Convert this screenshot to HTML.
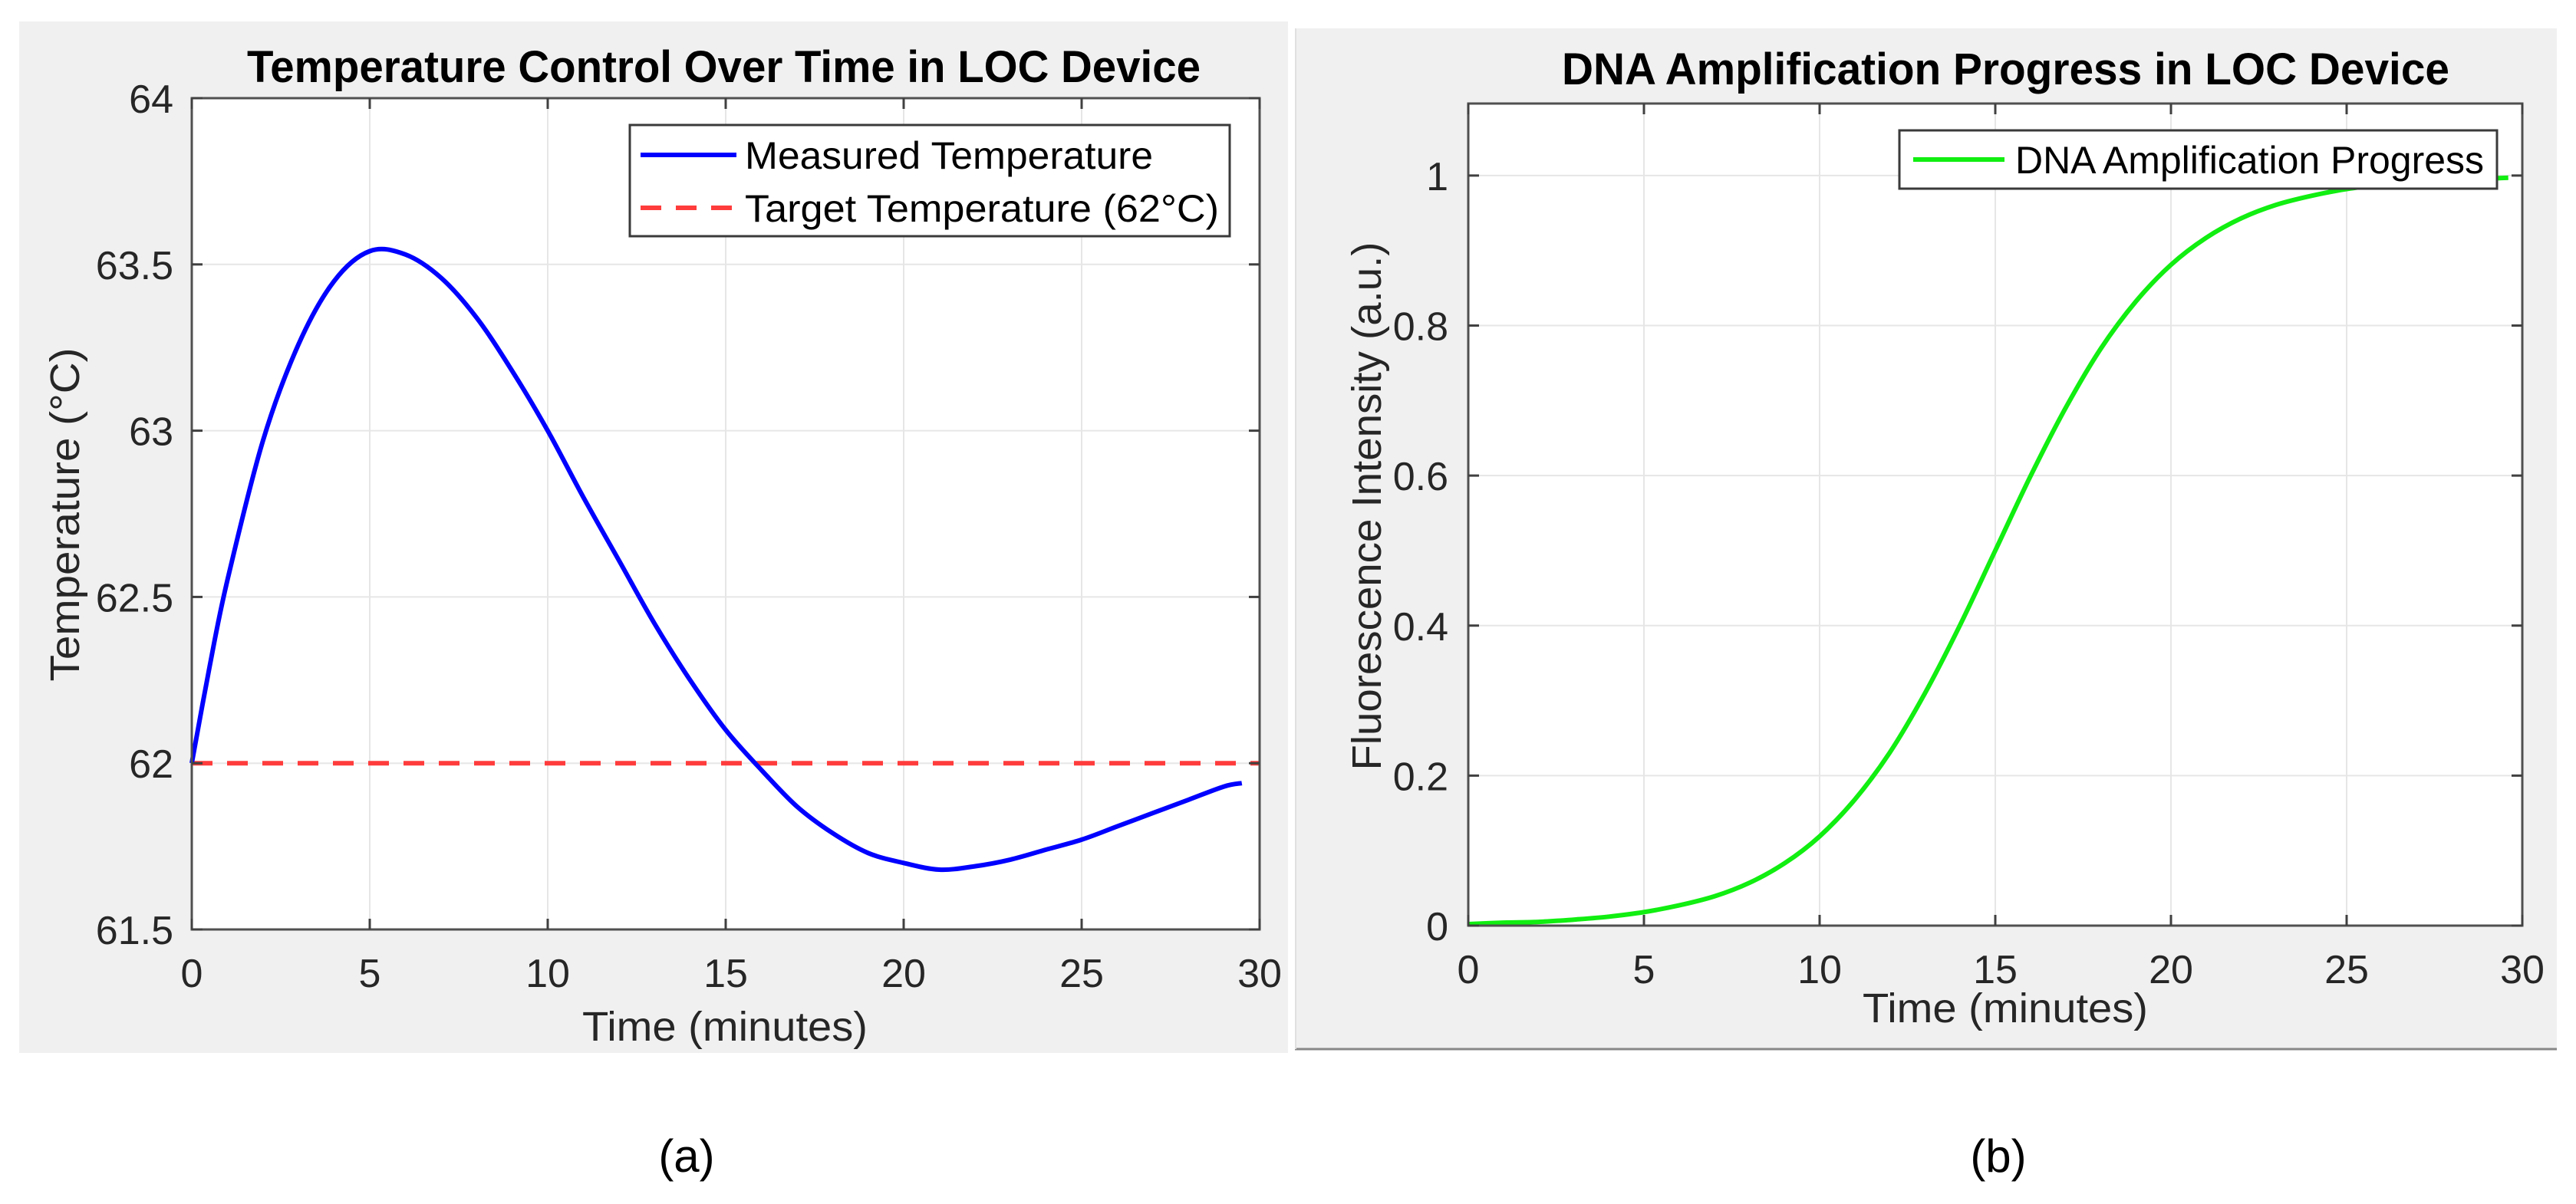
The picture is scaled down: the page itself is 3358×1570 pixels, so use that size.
<!DOCTYPE html>
<html><head><meta charset="utf-8"><style>
html,body{margin:0;padding:0;background:#fff;}
svg{display:block;font-family:"Liberation Sans",Arial,sans-serif;}
</style></head><body>
<svg id="fig" width="3358" height="1570" viewBox="0 0 3358 1570" xmlns="http://www.w3.org/2000/svg">
<rect x="25" y="28" width="1654" height="1345" fill="#f0f0f0"/>
<rect x="1688" y="37" width="1645" height="1331" fill="#f0f0f0"/>
<line x1="1688" y1="1368" x2="3333" y2="1368" stroke="#888" stroke-width="3"/>
<line x1="1689" y1="37" x2="1689" y2="1368" stroke="#e0e0e0" stroke-width="2"/>
<g id="chartA"></g>
<g id="chartB"></g>
<text x="895" y="1528" font-size="60" text-anchor="middle" fill="#000">(a)</text>
<text x="2605" y="1528" font-size="60" text-anchor="middle" fill="#000">(b)</text>
</svg>
<script>
// ---- Chart A data ----
const tempTimes = [0,0.5,1,2,3,4,5,6,7,8,9,10,11,12,13,14,15,16,17,18,19,20,21,22,23,24,25,26,27,28,29,29.5];
const tempValues = [62.00,62.29,62.55,62.97,63.26,63.45,63.54,63.53,63.46,63.34,63.18,63.00,62.80,62.61,62.42,62.25,62.10,61.98,61.87,61.79,61.73,61.70,61.68,61.69,61.71,61.74,61.77,61.81,61.85,61.89,61.93,61.94];
const targetTemp = [62];
const tempXTicks = [0,5,10,15,20,25,30];
const tempYTicks = [61.5,62,62.5,63,63.5,64];
const tempYTickLabels = ["61.5","62","62.5","63","63.5","64"];
// ---- Chart B data ----
const dnaTimes = [0,1,2,3,4,5,6,7,8,9,10,11,12,13,14,15,16,17,18,19,20,21,22,23,24,25,26,27,28,29,29.6];
const dnaValues = [0.002,0.004,0.005,0.008,0.012,0.018,0.027,0.039,0.057,0.083,0.119,0.168,0.231,0.310,0.401,0.500,0.599,0.690,0.769,0.832,0.881,0.917,0.943,0.961,0.973,0.982,0.988,0.992,0.995,0.996,0.997];
const dnaXTicks = [0,5,10,15,20,25,30];
const dnaYTicks = [0,0.2,0.4,0.6,0.8,1];
const dnaYTickLabels = ["0","0.2","0.4","0.6","0.8","1"];

const NS="http://www.w3.org/2000/svg";
function mk(parent,tag,attrs,text){
  const e=document.createElementNS(NS,tag);
  for(const k in attrs) e.setAttribute(k,attrs[k]);
  if(text!==undefined) e.textContent=text;
  parent.appendChild(e); return e;
}
function smoothPath(pts){
  let d="M"+pts[0][0].toFixed(1)+","+pts[0][1].toFixed(1);
  for(let i=0;i<pts.length-1;i++){
    const p0=pts[Math.max(0,i-1)],p1=pts[i],p2=pts[i+1],p3=pts[Math.min(pts.length-1,i+2)];
    const c1x=p1[0]+(p2[0]-p0[0])/6,c1y=p1[1]+(p2[1]-p0[1])/6;
    const c2x=p2[0]-(p3[0]-p1[0])/6,c2y=p2[1]-(p3[1]-p1[1])/6;
    d+=" C"+c1x.toFixed(1)+","+c1y.toFixed(1)+" "+c2x.toFixed(1)+","+c2y.toFixed(1)+" "+p2[0].toFixed(1)+","+p2[1].toFixed(1);
  }
  return d;
}
function drawAxes(g,cfg){
  const {L,R,T,B,xmin,xmax,ymin,ymax}=cfg;
  const X=v=>L+(v-xmin)/(xmax-xmin)*(R-L);
  const Y=v=>B-(v-ymin)/(ymax-ymin)*(B-T);
  const bg=mk(g,"rect",{x:L,y:T,width:R-L,height:B-T,fill:"#fff"});
  
  
  cfg.xticks.forEach(v=>{
    const l=mk(g,"line",{x1:X(v),y1:T,x2:X(v),y2:B,stroke:"#e6e6e6","stroke-width":2});
    
    
  });
  cfg.yticks.forEach(v=>{
    const l=mk(g,"line",{x1:L,y1:Y(v),x2:R,y2:Y(v),stroke:"#e6e6e6","stroke-width":2});
    
    
  });
  return {X,Y};
}
function drawFrame(g,cfg,X,Y){
  const {L,R,T,B}=cfg;
  const f=mk(g,"rect",{x:L,y:T,width:R-L,height:B-T,fill:"none",stroke:"#505050","stroke-width":3});
  
  
  cfg.xticks.forEach(v=>{
    const t1=mk(g,"line",{x1:X(v),y1:B,x2:X(v),y2:B-14,stroke:"#404040","stroke-width":3});
    
    
    const t2=mk(g,"line",{x1:X(v),y1:T,x2:X(v),y2:T+14,stroke:"#404040","stroke-width":3});
    
    
    const lb=mk(g,"text",{x:X(v),y:cfg.xLabelY,"font-size":52,"text-anchor":"middle",fill:"#262626"},String(v));
    
    
  });
  cfg.yticks.forEach((v,i)=>{
    const t1=mk(g,"line",{x1:L,y1:Y(v),x2:L+14,y2:Y(v),stroke:"#404040","stroke-width":3});
    
    
    const t2=mk(g,"line",{x1:R,y1:Y(v),x2:R-14,y2:Y(v),stroke:"#404040","stroke-width":3});
    
    
    const lb=mk(g,"text",{x:cfg.yLabelX,y:Y(v)+19,"font-size":52,"text-anchor":"end",fill:"#262626"},cfg.ylabels[i]);
    
    
  });
}

// ---- Chart A ----
(function(){
  const g=document.getElementById("chartA");
  const cfg={L:250,R:1642,T:128,B:1212,xmin:0,xmax:30,ymin:61.5,ymax:64,xticks:tempXTicks,yticks:tempYTicks,ylabels:tempYTickLabels,xLabelY:1287,yLabelX:226};
  const {X,Y}=drawAxes(g,cfg);
  const tgt=mk(g,"line",{x1:X(0),y1:Y(targetTemp[0]),x2:cfg.R,y2:Y(targetTemp[0]),stroke:"#ff3c3c","stroke-width":6,"stroke-dasharray":"27 19"});
  
  
  const pts=tempTimes.map((t,i)=>[X(t),Y(tempValues[i])]);
  const p=mk(g,"path",{d:smoothPath(pts),fill:"none",stroke:"#0000ff","stroke-width":6,"stroke-linejoin":"round"});
  
  
  drawFrame(g,cfg,X,Y);
  const t=mk(g,"text",{x:322,y:107,"font-size":58,"font-weight":"bold",fill:"#000",textLength:1243,lengthAdjust:"spacingAndGlyphs"},"Temperature Control Over Time in LOC Device");
  
  
  const xl=mk(g,"text",{x:759,y:1357,"font-size":54,fill:"#262626",textLength:372,lengthAdjust:"spacingAndGlyphs"},"Time (minutes)");
  
  
  const yl=mk(g,"text",{x:0,y:0,"font-size":54,fill:"#262626","text-anchor":"middle",transform:"translate(103,671) rotate(-90)",textLength:435,lengthAdjust:"spacingAndGlyphs"},"Temperature (°C)");
  
  
  const lg=mk(g,"g",{});
  
  
  mk(lg,"rect",{x:821,y:163,width:782,height:145,fill:"#fff",stroke:"#3a3a3a","stroke-width":3});
  const e1=mk(lg,"line",{x1:835,y1:202,x2:960,y2:202,stroke:"#0000ff","stroke-width":6});
  
  
  mk(lg,"text",{x:971,y:220,"font-size":50,fill:"#000",textLength:532,lengthAdjust:"spacingAndGlyphs"},"Measured Temperature");
  const e2=mk(lg,"line",{x1:835,y1:271,x2:960,y2:271,stroke:"#ff3c3c","stroke-width":6,"stroke-dasharray":"27 19"});
  
  
  mk(lg,"text",{x:971,y:289,"font-size":50,fill:"#000",textLength:618,lengthAdjust:"spacingAndGlyphs"},"Target Temperature (62°C)");
})();

// ---- Chart B ----
(function(){
  const g=document.getElementById("chartB");
  const cfg={L:1914,R:3288,T:135,B:1207,xmin:0,xmax:30,ymin:0,ymax:1.096,xticks:dnaXTicks,yticks:dnaYTicks,ylabels:dnaYTickLabels,xLabelY:1282,yLabelX:1888};
  const {X,Y}=drawAxes(g,cfg);
  const pts=dnaTimes.map((t,i)=>[X(t),Y(dnaValues[i])]);
  const p=mk(g,"path",{d:smoothPath(pts),fill:"none",stroke:"#11ee11","stroke-width":6,"stroke-linejoin":"round"});
  
  
  drawFrame(g,cfg,X,Y);
  const t=mk(g,"text",{x:2036,y:110,"font-size":58,"font-weight":"bold",fill:"#000",textLength:1157,lengthAdjust:"spacingAndGlyphs"},"DNA Amplification Progress in LOC Device");
  
  
  const xl=mk(g,"text",{x:2428,y:1333,"font-size":54,fill:"#262626",textLength:372,lengthAdjust:"spacingAndGlyphs"},"Time (minutes)");
  
  
  const yl=mk(g,"text",{x:0,y:0,"font-size":54,fill:"#262626","text-anchor":"middle",transform:"translate(1800,660) rotate(-90)",textLength:689,lengthAdjust:"spacingAndGlyphs"},"Fluorescence Intensity (a.u.)");
  
  
  const lg=mk(g,"g",{});
  
  
  mk(lg,"rect",{x:2476,y:170,width:779,height:76,fill:"#fff",stroke:"#3a3a3a","stroke-width":3});
  const e1=mk(lg,"line",{x1:2494,y1:208,x2:2613,y2:208,stroke:"#11ee11","stroke-width":6});
  
  
  mk(lg,"text",{x:2627,y:226,"font-size":50,fill:"#000",textLength:611,lengthAdjust:"spacingAndGlyphs"},"DNA Amplification Progress");
})();
</script>
</body></html>
